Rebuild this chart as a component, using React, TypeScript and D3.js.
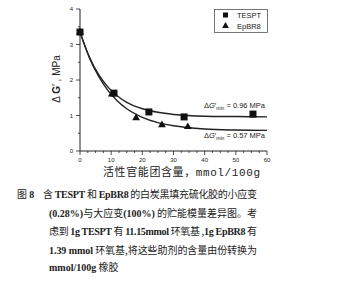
import React from "react";
import * as d3 from "d3";

const xTicks = [0, 10, 20, 30, 40, 50, 60];
const yTicks = [0, 1, 2, 3, 4];
const seriesNames = ["TESPT", "EpBR8"];
const tesptX = [0, 10.9, 22.1, 33.4, 55.5];
const tesptY = [3.35, 1.63, 1.1, 0.96, 1.04];
const epbrX = [0, 10.2, 18, 26.3, 34.6];
const epbrY = [3.35, 1.6, 0.93, 0.73, 0.68];
const fitX = [0, 3, 6, 9, 12, 15, 20, 25, 30, 40, 50, 60];
const tesptFit = [3.35, 2.65, 2.15, 1.8, 1.55, 1.37, 1.19, 1.09, 1.03, 0.98, 0.97, 0.96];
const epbrFit = [3.35, 2.63, 2.1, 1.7, 1.41, 1.19, 0.95, 0.8, 0.71, 0.62, 0.59, 0.58];
const minLabels = ["0.96 MPa", "0.57 MPa"];

export default function App() {
  const x = d3.scaleLinear().domain([0, 60]).range([80, 267]);
  const y = d3.scaleLinear().domain([0, 4]).range([151, 9]);
  const line = d3
    .line<[number, number]>()
    .x((d) => x(d[0]))
    .y((d) => y(d[1]))
    .curve(d3.curveMonotoneX);
  const tri = d3.symbol(d3.symbolTriangle, 26)() as string;
  const minorX = d3.range(0, 61, 2.5);
  const minorY = d3.range(0, 4.01, 0.5);
  const ink = "#222";
  const cjk = "'Noto Sans CJK SC', sans-serif";
  const serif = "'Liberation Serif', 'DejaVu Serif', serif";
  const capLines: { x: number; y: number; w?: number; parts: [string, boolean][] }[] = [
    { x: 43, y: 198, w: 214, parts: [["含 ", false], ["TESPT", true], [" 和 ", false], ["EpBR8", true], [" 的白炭黑填充硫化胶的小应变", false]] },
    { x: 49, y: 217, w: 208, parts: [["(0.28%)", true], ["与大应变", false], ["(100%)", true], [" 的贮能模量差异图。考", false]] },
    { x: 49, y: 235, w: 208, parts: [["虑到 ", false], ["1g TESPT", true], [" 有 ", false], ["11.15mmol", true], [" 环氧基 ,", false], ["1g EpBR8", true], [" 有", false]] },
    { x: 49, y: 254, w: 208, parts: [["1.39 mmol", true], [" 环氧基,将这些助剂的含量由份转换为", false]] },
    { x: 49, y: 271, parts: [["mmol/100g", true], [" 橡胶", false]] },
  ];
  return (
    <svg width={338} height={289} style={{ position: "absolute", left: 0, top: 0, background: "#fff" }}>
      <rect width={338} height={289} fill="#fff" />
      {/* axes */}
      <line x1={80} x2={80} y1={y(4)} y2={y(0)} stroke={ink} strokeWidth={1} />
      <line x1={80} x2={x(60)} y1={151} y2={151} stroke={ink} strokeWidth={1} />
      {minorY.map((v) => (
        <line key={"my" + v} x1={v % 1 === 0 ? 76 : 78} x2={80} y1={y(v)} y2={y(v)} stroke={ink} strokeWidth={0.8} />
      ))}
      {yTicks.map((v) => (
        <text key={"yt" + v} x={73} y={y(v) + 2} fontSize={6} textAnchor="end" fill={ink} fontFamily="'Liberation Sans', sans-serif">
          {v}
        </text>
      ))}
      {minorX.map((v) => (
        <line key={"mx" + v} x1={x(v)} x2={x(v)} y1={151} y2={v % 10 === 0 ? 155 : 153} stroke={ink} strokeWidth={0.8} />
      ))}
      {xTicks.map((v) => (
        <text key={"xt" + v} x={x(v)} y={162} fontSize={6} textAnchor="middle" fill={ink} fontFamily="'Liberation Sans', sans-serif">
          {v}
        </text>
      ))}
      {/* fit curves */}
      <path d={line(fitX.map((v, i) => [v, tesptFit[i]]) as any) || ""} fill="none" stroke={ink} strokeWidth={1.4} />
      <path d={line(fitX.map((v, i) => [v, epbrFit[i]]) as any) || ""} fill="none" stroke={ink} strokeWidth={1.4} />
      {/* markers */}
      {tesptX.map((v, i) => (
        <rect key={"s" + i} x={x(v) - 3.5} y={y(tesptY[i]) - 3.5} width={7} height={7} fill="#111" />
      ))}
      {epbrX.map((v, i) => (
        <path key={"t" + i} d={tri} transform={`translate(${x(v)},${y(epbrY[i])})`} fill="#111" />
      ))}
      {/* min labels */}
      {minLabels.map((s, i) => (
        <text key={"ml" + i} x={204} y={i === 0 ? 108 : 138} fontSize={7.5} fill={ink} fontFamily="'Liberation Sans', sans-serif">
          Δ<tspan fontStyle="italic">G</tspan>′<tspan fontSize={5} dy={2}>min</tspan>
          <tspan dy={-2}> = {s}</tspan>
        </text>
      ))}
      {/* legend */}
      <rect x={214.5} y={9.5} width={53} height={23} fill="#fff" stroke="#555" strokeWidth={0.8} />
      <rect x={223} y={12.5} width={5} height={5} fill="#111" />
      <path d={d3.symbol(d3.symbolTriangle, 20)() as string} transform="translate(225.5,26)" fill="#111" />
      <text x={237} y={18} fontSize={7.5} fill={ink} fontFamily="'Liberation Sans', sans-serif">{seriesNames[0]}</text>
      <text x={237} y={29} fontSize={7.5} fill={ink} fontFamily="'Liberation Sans', sans-serif">{seriesNames[1]}</text>
      {/* axis titles */}
      <text transform="translate(60,79) rotate(-90)" textAnchor="middle" fontSize={10} fill={ink} fontFamily="'Liberation Sans', sans-serif">
        Δ <tspan fontWeight="bold">G</tspan>′ , MPa
      </text>
      <text x={103} y={176} fontSize={11} fill={ink} textLength={157} lengthAdjust="spacing">
        <tspan fontFamily={cjk}>活性官能团含量，</tspan>
        <tspan fontFamily="'Liberation Mono', monospace">mmol/100g</tspan>
      </text>
      {/* caption */}
      <text x={17} y={198} fontSize={10} fill={ink}>
        <tspan fontFamily={cjk}>图 </tspan>
        <tspan fontFamily={serif} fontWeight="bold">8</tspan>
      </text>
      {capLines.map((l, i) => (
        <text
          key={"c" + i}
          x={l.x}
          y={l.y}
          fontSize={10}
          fill={ink}
          {...(l.w ? { textLength: l.w, lengthAdjust: "spacing" } : {})}
        >
          {l.parts.map(([s, b], j) => (
            <tspan key={j} fontFamily={b ? serif : cjk} fontWeight={b ? "bold" : "normal"}>
              {s}
            </tspan>
          ))}
        </text>
      ))}
    </svg>
  );
}
